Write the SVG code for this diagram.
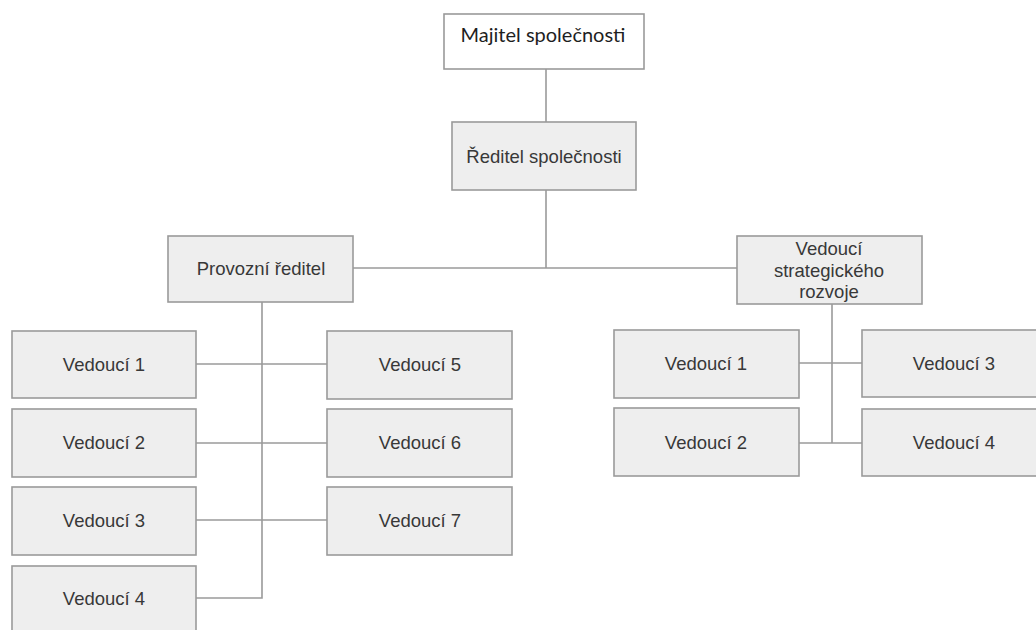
<svg xmlns="http://www.w3.org/2000/svg" width="1036" height="630" viewBox="0 0 1036 630">
<style>
.box{fill:#eeeeee;stroke:#9a9a9a;stroke-width:1.6}
.wbox{fill:#ffffff;stroke:#9a9a9a;stroke-width:1.6}
.t{font-family:"Liberation Sans",Arial,sans-serif;font-size:18.5px;fill:#383838;text-anchor:middle}
.tc{font-family:Lato,"Liberation Sans",sans-serif;font-size:20px;fill:#1e1e1e;text-anchor:middle}
.c{fill:none;stroke:#9a9a9a;stroke-width:1.6}
</style>
<rect width="1036" height="630" fill="#ffffff"/>
<g id="connectors">
<line class="c" x1="546" y1="69" x2="546" y2="122"/>
<line class="c" x1="546" y1="190" x2="546" y2="268"/>
<line class="c" x1="353" y1="268" x2="737" y2="268"/>
<polyline class="c" points="262,302 262,598 196,598"/>
<line class="c" x1="196" y1="364" x2="327" y2="364"/>
<line class="c" x1="196" y1="443" x2="327" y2="443"/>
<line class="c" x1="196" y1="520" x2="327" y2="520"/>
<polyline class="c" points="832,304 832,443"/>
<line class="c" x1="799" y1="363" x2="862" y2="363"/>
<line class="c" x1="799" y1="443" x2="862" y2="443"/>
</g>
<g id="majitel"><rect class="wbox" x="444" y="14" width="200" height="55"/><text class="tc" x="543" y="42">Majitel společnosti</text></g>
<g id="reditel"><rect class="box" x="452" y="122" width="184" height="68"/><text class="t" x="544" y="163">Ředitel společnosti</text></g>
<g id="provozni"><rect class="box" x="168" y="236" width="185" height="66"/><text class="t" x="261" y="275">Provozní ředitel</text></g>
<g id="strategicky"><rect class="box" x="737" y="236" width="185" height="68"/><text class="t" x="829" y="255">Vedoucí</text><text class="t" x="829" y="277">strategického</text><text class="t" x="829" y="298">rozvoje</text></g>
<g id="pv1"><rect class="box" x="12" y="331" width="184" height="67"/><text class="t" x="104" y="371">Vedoucí 1</text></g>
<g id="pv2"><rect class="box" x="12" y="409" width="184" height="68"/><text class="t" x="104" y="449">Vedoucí 2</text></g>
<g id="pv3"><rect class="box" x="12" y="487" width="184" height="68"/><text class="t" x="104" y="527">Vedoucí 3</text></g>
<g id="pv4"><rect class="box" x="12" y="566" width="184" height="80"/><text class="t" x="104" y="605">Vedoucí 4</text></g>
<g id="pv5"><rect class="box" x="327" y="331" width="185" height="68"/><text class="t" x="420" y="371">Vedoucí 5</text></g>
<g id="pv6"><rect class="box" x="327" y="409" width="185" height="68"/><text class="t" x="420" y="449">Vedoucí 6</text></g>
<g id="pv7"><rect class="box" x="327" y="487" width="185" height="68"/><text class="t" x="420" y="527">Vedoucí 7</text></g>
<g id="sv1"><rect class="box" x="614" y="330" width="185" height="68"/><text class="t" x="706" y="370">Vedoucí 1</text></g>
<g id="sv2"><rect class="box" x="614" y="408" width="185" height="68"/><text class="t" x="706" y="449">Vedoucí 2</text></g>
<g id="sv3"><rect class="box" x="862" y="330" width="190" height="67"/><text class="t" x="954" y="370">Vedoucí 3</text></g>
<g id="sv4"><rect class="box" x="862" y="409" width="190" height="67"/><text class="t" x="954" y="449">Vedoucí 4</text></g>
</svg>
